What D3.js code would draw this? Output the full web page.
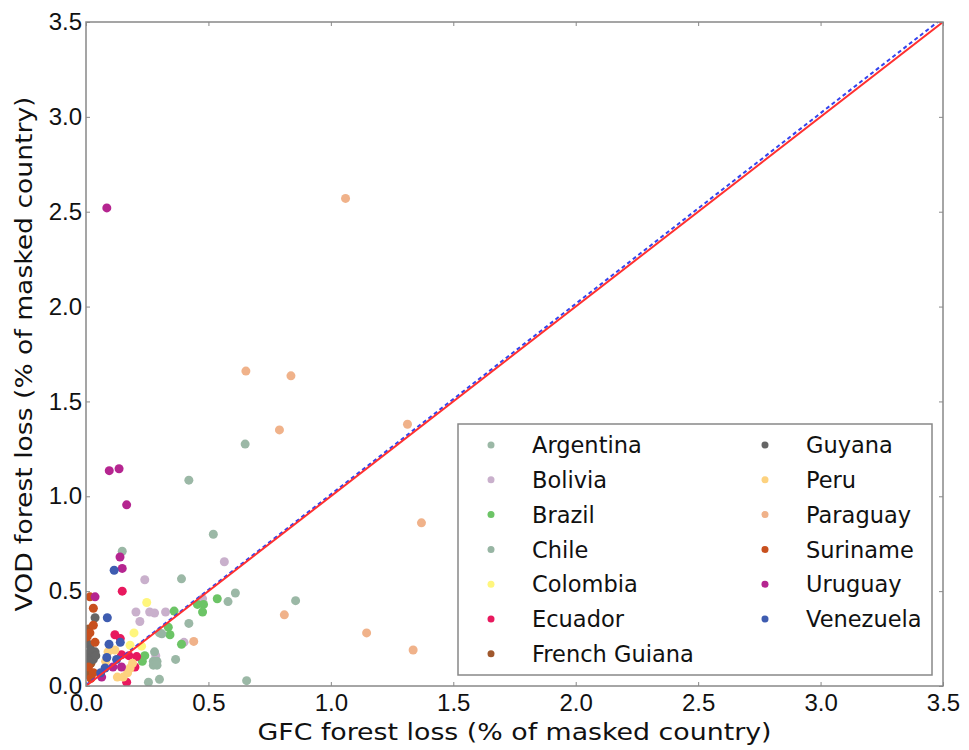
<!DOCTYPE html>
<meta charset="utf-8">
<style>
    body {
        margin: 0;
        background-color: #fff;
    }

    svg {
        display: block;
        font-family: "DejaVu Sans", sans-serif;
    }

    .axis path,
    .axis line {
        stroke: #888;
    }

    .axis text {
        font-size: 24px;
        fill: #111;
    }

    .legend text {
        font-size: 22.5px;
        fill: #111;
    }
</style>
<svg width="969" height="750"></svg>
<script src="https://d3js.org/d3.v7.min.js"></script>
<script>
    // countries, legend order
    var countries = ["Argentina", "Bolivia", "Brazil", "Chile", "Colombia", "Ecuador", "French Guiana",
        "Guyana", "Peru", "Paraguay", "Suriname", "Uruguay", "Venezuela"];

    var colors = ["#9bb8a6", "#c9b0cc", "#6cc466", "#97b5a3", "#fff67d", "#e8195e", "#a0582d",
        "#666666", "#fdd27f", "#f0b28a", "#c8501e", "#b52590", "#3e5cb0"];

    // [GFC loss, VOD loss] per country
    var argentina = [[0.65, 1.275], [0.42, 1.085], [0.52, 0.80], [0.61, 0.49], [0.58, 0.445], [0.856, 0.45],
        [0.39, 0.565], [0.42, 0.33], [0.30, 0.28], [0.366, 0.14], [0.656, 0.028], [0.255, 0.02], [0.30, 0.035], [0.148, 0.71]];
    var bolivia = [[0.565, 0.655], [0.24, 0.56], [0.204, 0.39], [0.26, 0.39], [0.28, 0.385], [0.325, 0.39],
        [0.22, 0.34], [0.476, 0.46], [0.40, 0.23], [0.285, 0.16]];
    var brazil = [[0.36, 0.395], [0.336, 0.31], [0.343, 0.27], [0.455, 0.43], [0.48, 0.43], [0.476, 0.39],
        [0.536, 0.46], [0.39, 0.22], [0.24, 0.16], [0.23, 0.13]];
    var chile = [[0.28, 0.18], [0.275, 0.13], [0.29, 0.13], [0.275, 0.11], [0.29, 0.11], [0.31, 0.275]];
    var colombia = [[0.248, 0.44], [0.196, 0.28], [0.227, 0.21], [0.18, 0.215], [0.19, 0.10]];
    var ecuador = [[0.148, 0.50], [0.118, 0.27], [0.14, 0.25], [0.175, 0.16], [0.207, 0.155], [0.145, 0.165],
        [0.166, 0.02], [0.20, 0.10]];
    var frenchGuiana = [[0.005, 0.225], [0.01, 0.30], [0.008, 0.06], [0.02, 0.12]];
    var guyana = [[0.037, 0.36], [0.016, 0.215], [0.037, 0.18], [0.008, 0.17], [0.03, 0.14], [0.02, 0.19],
        [0.01, 0.13], [0.04, 0.16]];
    var peru = [[0.09, 0.18], [0.118, 0.19], [0.18, 0.095], [0.128, 0.047], [0.152, 0.047], [0.19, 0.12],
        [0.08, 0.13], [0.17, 0.07]];
    var paraguay = [[1.06, 2.57], [0.653, 1.66], [0.837, 1.635], [0.79, 1.35], [1.313, 1.38], [1.37, 0.86],
        [1.146, 0.28], [1.336, 0.19], [0.81, 0.375], [0.44, 0.235]];
    var suriname = [[0.016, 0.47], [0.03, 0.41], [0.03, 0.32], [0.016, 0.28], [0.037, 0.23], [0.01, 0.10],
        [0.03, 0.07], [0.02, 0.04], [0.005, 0.26]];
    var uruguay = [[0.085, 2.52], [0.095, 1.135], [0.135, 1.145], [0.166, 0.955], [0.139, 0.68], [0.148, 0.62],
        [0.037, 0.47], [0.145, 0.10], [0.064, 0.047], [0.11, 0.10]];
    var venezuela = [[0.115, 0.61], [0.087, 0.36], [0.094, 0.22], [0.085, 0.15], [0.125, 0.14], [0.14, 0.23],
        [0.078, 0.095], [0.06, 0.07]];

    var series = [argentina, bolivia, brazil, chile, colombia, ecuador, frenchGuiana,
        guyana, peru, paraguay, suriname, uruguay, venezuela];

    var ticks = [0, 0.5, 1.0, 1.5, 2.0, 2.5, 3.0, 3.5];

    // 1:1 line and fitted line
    var oneToOne = [[0, 0], [3.5, 3.5]];
    var fitLine = [[0, 0.005], [3.5, 3.522]];

    var svg = d3.select("svg"),
        width = +svg.attr("width"),
        height = +svg.attr("height"),
        margin = {top: 22, right: 26, bottom: 64, left: 86};

    var x = d3.scaleLinear().domain([0, 3.5]).range([margin.left, width - margin.right]);
    var y = d3.scaleLinear().domain([0, 3.5]).range([height - margin.bottom, margin.top]);

    svg.append("clipPath").attr("id", "clip")
        .append("rect")
        .attr("x", margin.left).attr("y", margin.top)
        .attr("width", x(3.5) - x(0)).attr("height", y(0) - y(3.5));

    var plot = svg.append("g").attr("clip-path", "url(#clip)");

    series.forEach(function(pts, i) {
        plot.append("g")
            .selectAll("circle")
            .data(pts)
            .enter().append("circle")
            .attr("cx", function(d) { return x(d[0]); })
            .attr("cy", function(d) { return y(d[1]); })
            .attr("r", 4.5)
            .attr("fill", colors[i]);
    });

    var line = d3.line()
        .x(function(d) { return x(d[0]); })
        .y(function(d) { return y(d[1]); });

    plot.append("path")
        .datum(fitLine)
        .attr("d", line)
        .attr("fill", "none")
        .attr("stroke", "#3344ee")
        .attr("stroke-width", 2)
        .attr("stroke-dasharray", "4,3");

    plot.append("path")
        .datum(oneToOne)
        .attr("d", line)
        .attr("fill", "none")
        .attr("stroke", "#ff3030")
        .attr("stroke-width", 2);

    // axes, ticks inward on all sides
    var fmt = d3.format(".1f");

    svg.append("g").attr("class", "axis")
        .attr("transform", "translate(0," + y(0) + ")")
        .call(d3.axisBottom(x).tickValues(ticks).tickFormat(fmt).tickSizeInner(-4).tickSizeOuter(0).tickPadding(8))
        .call(function(g) { g.select(".domain").remove(); })
        .selectAll("text").attr("dy", "0.71em");

    svg.append("g").attr("class", "axis")
        .attr("transform", "translate(" + x(0) + ",0)")
        .call(d3.axisLeft(y).tickValues(ticks).tickFormat(fmt).tickSizeInner(-4).tickSizeOuter(0).tickPadding(4))
        .call(function(g) { g.select(".domain").remove(); });

    svg.append("g").attr("class", "axis")
        .attr("transform", "translate(0," + y(3.5) + ")")
        .call(d3.axisTop(x).tickValues(ticks).tickFormat("").tickSizeInner(-4).tickSizeOuter(0))
        .call(function(g) { g.select(".domain").remove(); });

    svg.append("g").attr("class", "axis")
        .attr("transform", "translate(" + x(3.5) + ",0)")
        .call(d3.axisRight(y).tickValues(ticks).tickFormat("").tickSizeInner(-4).tickSizeOuter(0))
        .call(function(g) { g.select(".domain").remove(); });

    svg.append("rect")
        .attr("x", x(0)).attr("y", y(3.5))
        .attr("width", x(3.5) - x(0)).attr("height", y(0) - y(3.5))
        .attr("fill", "none")
        .attr("stroke", "#888")
        .attr("stroke-width", 1.5);

    svg.append("text")
        .attr("x", (x(0) + x(3.5)) / 2)
        .attr("y", 740)
        .attr("text-anchor", "middle")
        .attr("font-size", "23px")
        .attr("fill", "#111")
        .attr("textLength", 514)
        .attr("lengthAdjust", "spacingAndGlyphs")
        .text("GFC forest loss (% of masked country)");

    svg.append("text")
        .attr("transform", "translate(32," + (y(0) + y(3.5)) / 2 + ") rotate(-90)")
        .attr("text-anchor", "middle")
        .attr("font-size", "23px")
        .attr("fill", "#111")
        .attr("textLength", 515)
        .attr("lengthAdjust", "spacingAndGlyphs")
        .text("VOD forest loss (% of masked country)");

    // legend
    var legend = svg.append("g").attr("class", "legend");

    legend.append("rect")
        .attr("x", 458).attr("y", 424)
        .attr("width", 474).attr("height", 251)
        .attr("fill", "#fff")
        .attr("stroke", "#888")
        .attr("stroke-width", 1.5);

    var items = legend.selectAll("g.item")
        .data(countries)
        .enter().append("g")
        .attr("class", "item")
        .attr("transform", function(d, i) {
            var col = i < 7 ? 0 : 1, row = i < 7 ? i : i - 7;
            return "translate(" + (491 + col * 274) + "," + (445 + row * 34.8) + ")";
        });

    items.append("circle")
        .attr("r", 3.5)
        .attr("fill", function(d, i) { return colors[i]; });

    items.append("text")
        .attr("x", 41)
        .attr("dy", "0.36em")
        .text(function(d) { return d; });
</script>
